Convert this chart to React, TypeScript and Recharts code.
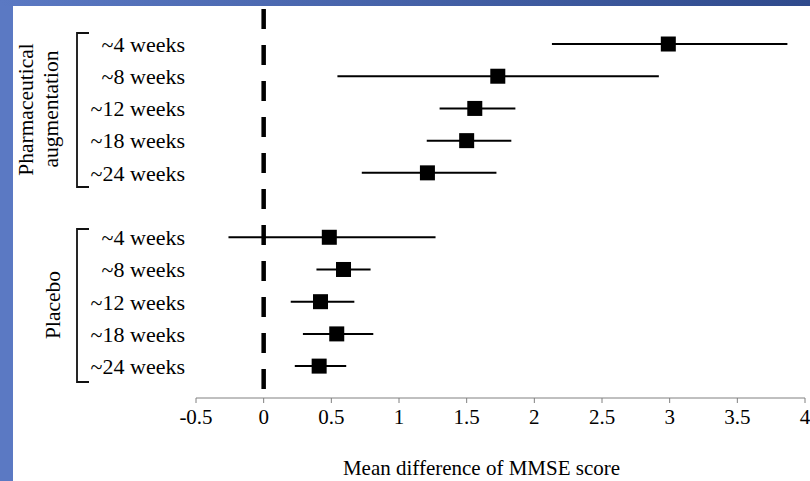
import React from 'react';
import { ScatterChart, Scatter, XAxis, YAxis, ErrorBar, ReferenceLine, Label } from 'recharts';

// ---- data ----
const groupNames: string[][] = [['Pharmaceutical', 'augmentation'], ['Placebo']];
const timepoints = ['~4 weeks', '~8 weeks', '~12 weeks', '~18 weeks', '~24 weeks'];
const pharmaMean = [2.99, 1.73, 1.56, 1.5, 1.21];
const pharmaLow = [2.13, 0.545, 1.3, 1.205, 0.725];
const pharmaHigh = [3.87, 2.92, 1.86, 1.83, 1.72];
const placeboMean = [0.485, 0.59, 0.42, 0.54, 0.41];
const placeboLow = [-0.26, 0.39, 0.2, 0.29, 0.23];
const placeboHigh = [1.27, 0.79, 0.67, 0.81, 0.61];
const xTicks = [-0.5, 0, 0.5, 1, 1.5, 2, 2.5, 3, 3.5, 4];
const yTicks = [0, 1, 2, 3, 4, 6, 7, 8, 9, 10];
const xTitle = 'Mean difference of MMSE score';

const FONT = "'Liberation Serif', 'Times New Roman', serif";

const build = (mean: number[], lo: number[], hi: number[], offset: number) =>
  mean.map((m, i) => ({ x: m, y: offset + i, err: [m - lo[i], hi[i] - m] }));

const pharmaData = build(pharmaMean, pharmaLow, pharmaHigh, 0);
const placeboData = build(placeboMean, placeboLow, placeboHigh, 6);

const Square = (props: any) => {
  const { cx, cy } = props;
  if (cx == null || cy == null) return null;
  return <rect x={cx - 7.5} y={cy - 7.5} width={15} height={15} fill="#000" />;
};

const yLabel = (v: number) => timepoints[v % 6];

export default function App() {
  return (
    <div style={{ position: 'absolute', left: 0, top: 0, width: 810, height: 481, background: '#5b79c3', overflow: 'hidden' }}>
      <div style={{ position: 'absolute', left: 0, top: 0, width: 810, height: 6, background: 'linear-gradient(to right, #5b79c3, #2f4a8c)' }} />
      <div style={{ position: 'absolute', left: 13, top: 6, width: 797, height: 475, background: '#fff' }} />
      <div style={{ position: 'absolute', left: 0, top: 0 }}>
        <ScatterChart width={810} height={481} margin={{ top: 9, right: 5, left: 0, bottom: 0 }}>
          <XAxis
            type="number"
            dataKey="x"
            domain={[-0.5, 4]}
            ticks={xTicks}
            interval={0}
            allowDataOverflow
            height={83}
            tickSize={5}
            tickMargin={6}
            stroke="#808080"
            tick={{ fill: '#000', fontSize: 21, fontFamily: FONT }}
            tickFormatter={(v: number) => String(v)}
          >
            <Label
              content={(p: any) => {
                const vb = p.viewBox || {};
                return (
                  <text
                    x={vb.x + vb.width / 2 - 19}
                    y={vb.y + vb.height - 6}
                    textAnchor="middle"
                    fill="#000"
                    fontSize={21}
                    fontFamily={FONT}
                  >
                    {xTitle}
                  </text>
                );
              }}
            />
          </XAxis>
          <YAxis
            type="number"
            dataKey="y"
            domain={[-1.087, 10.99]}
            reversed
            ticks={yTicks}
            interval={0}
            allowDataOverflow
            width={196}
            axisLine={false}
            tickLine={false}
            tickSize={5}
            tickMargin={6}
            tick={{ fill: '#000', fontSize: 22, fontFamily: FONT }}
            tickFormatter={yLabel}
          />
          <ReferenceLine
            segment={[{ x: 0, y: -1.087 }, { x: 0, y: 10.71 }]}
            stroke="#000"
            strokeWidth={4.5}
            strokeDasharray="20 16"
          />
          <Scatter data={pharmaData} shape={Square} isAnimationActive={false}>
            <ErrorBar dataKey="err" direction="x" width={0} stroke="#000" strokeWidth={2} isAnimationActive={false} />
          </Scatter>
          <Scatter data={placeboData} shape={Square} isAnimationActive={false}>
            <ErrorBar dataKey="err" direction="x" width={0} stroke="#000" strokeWidth={2} isAnimationActive={false} />
          </Scatter>
        </ScatterChart>
      </div>
      <svg width={810} height={481} style={{ position: 'absolute', left: 0, top: 0, pointerEvents: 'none' }}>
        <path d="M89,33 H77 V187 H89" fill="none" stroke="#111" strokeWidth={1.8} />
        <path d="M89,229 H77 V382 H89" fill="none" stroke="#111" strokeWidth={1.8} />
        <text x={33} y={109.5} transform="rotate(-90 33 109.5)" textAnchor="middle" fontSize={21.5} fontFamily={FONT} fill="#000">{groupNames[0][0]}</text>
        <text x={58} y={109} transform="rotate(-90 58 109)" textAnchor="middle" fontSize={21.5} fontFamily={FONT} fill="#000">{groupNames[0][1]}</text>
        <text x={60} y={305} transform="rotate(-90 60 305)" textAnchor="middle" fontSize={21.5} fontFamily={FONT} fill="#000">{groupNames[1][0]}</text>
      </svg>
    </div>
  );
}
